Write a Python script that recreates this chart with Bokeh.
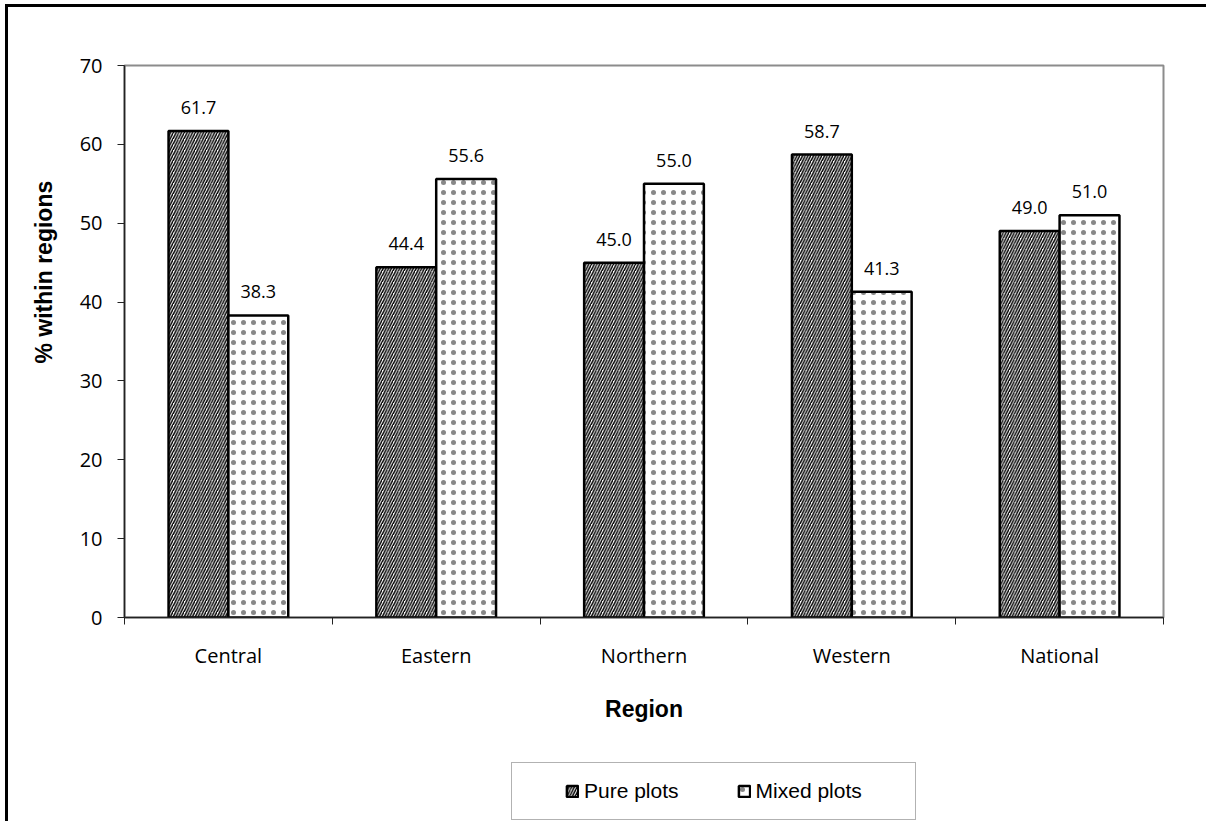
from bokeh.plotting import figure
from bokeh.layouts import column
from bokeh.models import (Range1d, FixedTicker, LabelSet, ColumnDataSource,
                          Legend, LegendItem, Title)
from bokeh.core.properties import value
from bokeh.embed import file_html
from bokeh.resources import INLINE

regions = ["Central", "Eastern", "Northern", "Western", "National"]
pure_plots = [61.7, 44.4, 45.0, 58.7, 49.0]
mixed_plots = [38.3, 55.6, 55.0, 41.3, 51.0]
y_ticks = [0, 10, 20, 30, 40, 50, 60, 70]
series_names = ["Pure plots", "Mixed plots"]

BAR_W = 0.288
idx = list(range(len(regions)))
x_pure = [i + 0.5 - BAR_W / 2 for i in idx]
x_mixed = [i + 0.5 + BAR_W / 2 for i in idx]

src_p = ColumnDataSource(dict(x=x_pure, top=pure_plots, lab=[f"{v:.1f}" for v in pure_plots]))
src_m = ColumnDataSource(dict(x=x_mixed, top=mixed_plots, lab=[f"{v:.1f}" for v in mixed_plots]))

PURE_STYLE = dict(fill_color="white", hatch_pattern="/", hatch_color="black",
                  hatch_scale=5.5, hatch_weight=1.5, line_color="black", line_width=2.5)
MIXED_STYLE = dict(fill_color="white", hatch_pattern=".", hatch_color="#888888",
                   hatch_scale=10, hatch_weight=1.0, line_color="black", line_width=2.5)

p = figure(width=1198, height=733, output_backend="svg", toolbar_location=None,
           x_range=Range1d(0, len(regions)), y_range=Range1d(0, 70),
           min_border_left=116, min_border_top=58, min_border_right=43, min_border_bottom=123)
p.xgrid.visible = False
p.ygrid.visible = False
p.outline_line_color = "#8c8c8c"
p.outline_line_width = 2
p.background_fill_color = "white"
p.border_fill_color = "white"

p.vbar(x="x", top="top", width=BAR_W, bottom=0, source=src_p, **PURE_STYLE)
p.vbar(x="x", top="top", width=BAR_W, bottom=0, source=src_m, **MIXED_STYLE)

for src in (src_p, src_m):
    p.add_layout(LabelSet(x="x", y="top", text="lab", source=src, y_offset=17,
                          text_align="center", text_baseline="alphabetic",
                          text_font=value("Open Sans"), text_font_size="18px",
                          text_color="black"))

p.yaxis.ticker = FixedTicker(ticks=y_ticks)
p.yaxis.major_tick_out = 7
p.yaxis.major_tick_in = 0
p.yaxis.minor_tick_out = 0
p.yaxis.minor_tick_in = 0
p.yaxis.axis_line_color = "#222222"
p.yaxis.axis_line_width = 1.5
p.yaxis.major_tick_line_color = "#222222"
p.yaxis.major_label_text_font = "Open Sans"
p.yaxis.major_label_text_font_size = "20px"
p.yaxis.major_label_text_color = "black"
p.yaxis.major_label_standoff = 15

centres = [i + 0.5 for i in idx]
p.xaxis.ticker = FixedTicker(ticks=centres, minor_ticks=list(range(len(regions) + 1)))
p.xaxis.major_label_overrides = {c: r for c, r in zip(centres, regions)}
p.xaxis.major_tick_out = 0
p.xaxis.major_tick_in = 0
p.xaxis.minor_tick_out = 7
p.xaxis.minor_tick_in = 0
p.xaxis.minor_tick_line_color = "#222222"
p.xaxis.axis_line_color = "#222222"
p.xaxis.axis_line_width = 1.5
p.xaxis.major_label_text_font = "Open Sans"
p.xaxis.major_label_text_font_size = "20px"
p.xaxis.major_label_text_color = "black"
p.xaxis.major_label_standoff = 17
p.xaxis.axis_label = "Region"
p.xaxis.axis_label_standoff = 24
p.xaxis.axis_label_text_font = "Liberation Sans"
p.xaxis.axis_label_text_font_style = "bold"
p.xaxis.axis_label_text_font_size = "23px"
p.xaxis.axis_label_text_color = "black"

p.add_layout(Title(text="% within regions", align="left", offset=254, standoff=40,
                   text_font="Liberation Sans", text_font_style="bold",
                   text_font_size="23px", text_color="black"), "left")

# second, axis-less figure holding the legend below the chart
p2 = figure(width=1198, height=81, output_backend="svg", toolbar_location=None,
            x_axis_type=None, y_axis_type=None, min_border=0,
            x_range=Range1d(0, 1), y_range=Range1d(0, 1))
p2.xgrid.visible = False
p2.ygrid.visible = False
p2.outline_line_color = None
p2.background_fill_color = "white"
p2.border_fill_color = "white"
# legend-only renderers (hidden; only their legend swatches are drawn)
lp = p2.vbar(x=[0.5], top=[1], width=0.1, visible=False, **PURE_STYLE)
lm = p2.vbar(x=[0.5], top=[1], width=0.1, visible=False, **MIXED_STYLE)
lb = p2.vbar(x=[0.5], top=[1], width=0.1, visible=False, fill_alpha=0, line_alpha=0)

legend = Legend(items=[LegendItem(label=" ", renderers=[lb]),
                       LegendItem(label=series_names[0], renderers=[lp]),
                       LegendItem(label=" ", renderers=[lb]),
                       LegendItem(label=series_names[1], renderers=[lm]),
                       LegendItem(label=" ", renderers=[lb])],
                orientation="horizontal", location=(387, 1), margin=0,
                padding=11, spacing=16, glyph_width=14, glyph_height=14,
                label_standoff=5, label_width=7, label_height=34,
                label_text_font="Liberation Sans", label_text_font_size="21px",
                label_text_color="black", click_policy="none",
                inactive_fill_alpha=0,
                border_line_color="#666666", border_line_width=1.2,
                background_fill_color="white")
p2.add_layout(legend, "center")

layout = column(p, p2, spacing=0,
                styles={"border-top": "3px solid #000000", "border-left": "3px solid #000000",
                        "margin-left": "5px", "margin-top": "4px"})

open("out.html", "w").write(file_html(layout, INLINE))
